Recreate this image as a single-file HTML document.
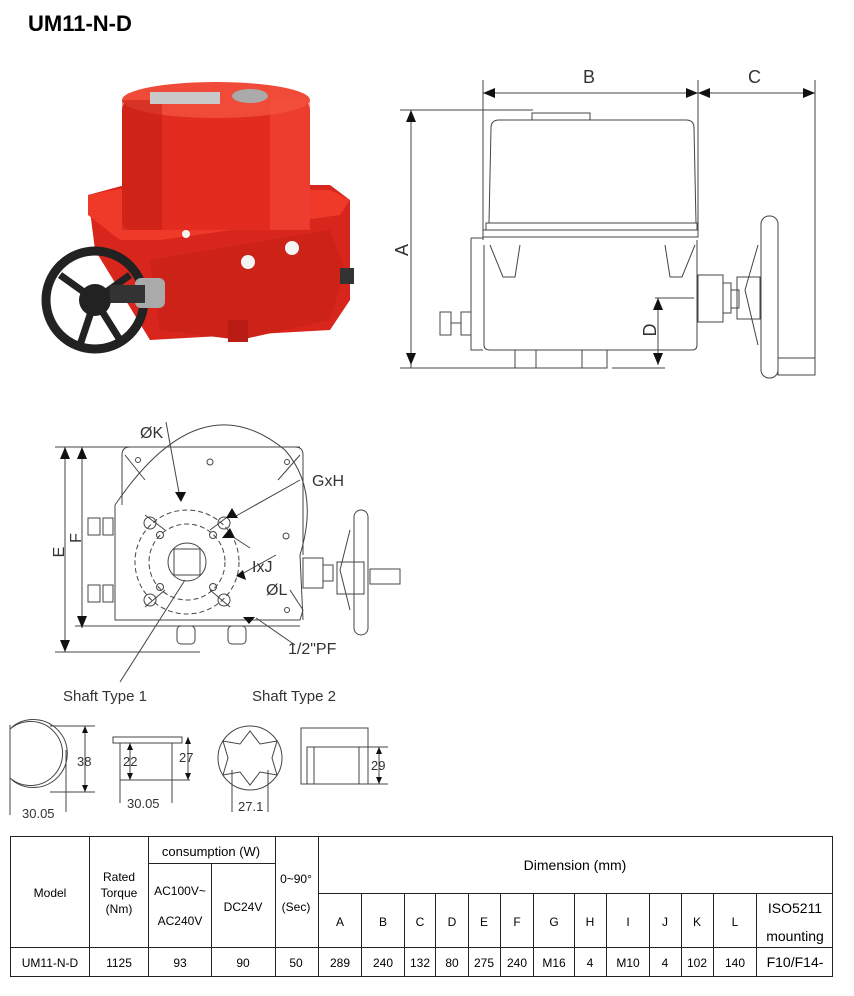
<!DOCTYPE html>
<html><head><meta charset="utf-8"><style>
body{margin:0;background:#fff;width:854px;height:996px;overflow:hidden;font-family:"Liberation Sans",sans-serif}
svg{position:absolute;left:0;top:0}
text{font-family:"Liberation Sans",sans-serif;fill:#333}
</style></head><body>
<svg width="854" height="996" viewBox="0 0 854 996">
<text x="28" y="31" font-size="22" font-weight="bold" fill="#000" style="fill:#000">UM11-N-D</text>

<!-- Photo -->
<g>
<path d="M88 195 L125 185 L330 185 L350 200 L350 300 L330 330 L150 340 L95 250 Z" fill="#d8261c"/>
<path d="M88 195 L88 215 L120 240 L160 240 L340 215 L350 200 L330 190 L125 188 Z" fill="#ef3a2a"/>
<rect x="122" y="100" width="188" height="130" rx="10" fill="#e32b1f"/>
<ellipse cx="216" cy="100" rx="94" ry="18" fill="#f04a38"/>
<rect x="122" y="100" width="40" height="130" fill="#c01d14" opacity="0.5"/>
<rect x="270" y="100" width="40" height="130" fill="#f55040" opacity="0.5"/>
<rect x="150" y="92" width="70" height="12" fill="#c9c9c9"/>
<ellipse cx="250" cy="96" rx="18" ry="7" fill="#aaa"/>
<path d="M150 260 L330 230 L345 270 L330 320 L240 340 L160 330 Z" fill="#cc2218"/>
<rect x="228" y="320" width="20" height="22" fill="#b81c14"/>
<circle cx="248" cy="262" r="7" fill="#f4f4f4"/>
<circle cx="292" cy="248" r="7" fill="#f4f4f4"/>
<circle cx="186" cy="234" r="4" fill="#f4f4f4"/>
<rect x="340" y="268" width="14" height="16" fill="#333"/>
<circle cx="95" cy="300" r="49" fill="none" stroke="#222" stroke-width="9"/>
<circle cx="95" cy="300" r="16" fill="#222"/>
<path d="M95 300 L60 275 M95 300 L130 275 M95 300 L80 345 M95 300 L120 340" stroke="#222" stroke-width="7"/>
<rect x="135" y="278" width="30" height="30" rx="6" fill="#aaa"/>
<rect x="110" y="285" width="35" height="18" fill="#333"/>
</g>

<!-- Side view -->
<g fill="none" stroke="#444" stroke-width="1">
<line x1="483" y1="80" x2="483" y2="240"/>
<line x1="698" y1="80" x2="698" y2="230"/>
<line x1="815" y1="80" x2="815" y2="375"/>
<line x1="483" y1="93" x2="815" y2="93"/>
<line x1="400" y1="110" x2="533" y2="110"/>
<line x1="411" y1="110" x2="411" y2="368"/>
<line x1="400" y1="368" x2="520" y2="368"/>
<path d="M532 120 L532 113 L590 113 L590 120"/>
<path d="M489 223 L491 128 Q491 120 499 120 L686 120 Q694 120 694 128 L696 223 Z"/>
<rect x="483" y="230" width="215" height="7"/>
<rect x="486" y="223" width="211" height="7"/>
<path d="M471 238 L483 238 M471 238 L471 350 L483 350"/>
<path d="M484 245 L484 345 Q484 350 490 350 L692 350 Q697 350 697 345 L697 240"/>
<path d="M490 245 L503 277 L515 277 L520 245 M665 245 L670 277 L682 277 L695 245"/>
<rect x="515" y="350" width="92" height="18"/>
<line x1="536" y1="350" x2="536" y2="368"/><line x1="582" y1="350" x2="582" y2="368"/>
<rect x="440" y="312" width="11" height="23"/><rect x="461" y="312" width="10" height="23"/>
<line x1="451" y1="323" x2="461" y2="323"/>
<rect x="698" y="275" width="25" height="47"/><rect x="723" y="283" width="8" height="30"/>
<rect x="731" y="290" width="8" height="18"/><rect x="737" y="277" width="23" height="42"/>
<rect x="761" y="216" width="17" height="162" rx="8"/>
<path d="M758 245 L745 290 L758 345"/>
<rect x="778" y="358" width="37" height="17"/>
<line x1="655" y1="298" x2="694" y2="298"/>
<line x1="658" y1="298" x2="658" y2="365"/>
<line x1="612" y1="368" x2="665" y2="368"/>
</g>
<g fill="#111">
<path d="M483 93 L495 88 L495 98Z M698 93 L686 88 L686 98Z M698 93 L710 88 L710 98Z M815 93 L803 88 L803 98Z"/>
<path d="M411 110 L406 122 L416 122Z M411 365 L406 353 L416 353Z"/>
<path d="M658 298 L653 310 L663 310Z M658 365 L653 353 L663 353Z"/>
</g>
<text x="583" y="83" font-size="18">B</text>
<text x="748" y="83" font-size="18">C</text>
<text x="408" y="250" font-size="18" transform="rotate(-90 408 250)" text-anchor="middle">A</text>
<text x="656" y="330" font-size="18" transform="rotate(-90 656 330)" text-anchor="middle">D</text>

<!-- Bottom view -->
<g fill="none" stroke="#444" stroke-width="1">
<line x1="55" y1="447" x2="300" y2="447"/>
<line x1="65" y1="447" x2="65" y2="652"/>
<line x1="82" y1="447" x2="82" y2="628"/>
<line x1="55" y1="652" x2="200" y2="652"/>
<line x1="75" y1="626" x2="300" y2="626"/>
<path d="M122 505 L122 455 Q122 447 130 447 L295 447 Q303 447 303 455 L303 555"/>
<path d="M115 505 L115 620 L300 620 L303 610"/>
<path d="M115 505 Q200 380 285 450 Q320 490 300 555"/>
<path d="M300 555 L303 620"/>
<path d="M125 455 L145 480 M300 455 L278 480 M290 590 L303 610"/>
<circle cx="138" cy="460" r="2.5"/><circle cx="210" cy="462" r="3"/><circle cx="287" cy="462" r="2.5"/><circle cx="286" cy="536" r="3"/><circle cx="287" cy="610" r="2.5"/>
<circle cx="187" cy="562" r="52" stroke-dasharray="5 3"/>
<circle cx="187" cy="562" r="38" stroke-dasharray="5 3"/>
<circle cx="187" cy="562" r="19"/>
<rect x="174" y="549" width="26" height="26"/>
<circle cx="150" cy="523" r="6"/><circle cx="224" cy="523" r="6"/><circle cx="150" cy="600" r="6"/><circle cx="224" cy="600" r="6"/>
<circle cx="160" cy="535" r="3.5"/><circle cx="213" cy="535" r="3.5"/><circle cx="160" cy="587" r="3.5"/><circle cx="213" cy="587" r="3.5"/>
<path d="M145 515 L165 530 M230 515 L210 530 M145 607 L165 590 M230 607 L210 590"/>
<rect x="88" y="518" width="12" height="17"/><rect x="103" y="518" width="10" height="17"/>
<rect x="88" y="585" width="12" height="17"/><rect x="103" y="585" width="10" height="17"/>
<rect x="177" y="626" width="18" height="18" rx="4"/><rect x="228" y="626" width="18" height="18" rx="4"/>
<rect x="303" y="558" width="20" height="30"/><rect x="323" y="565" width="10" height="16"/>
<rect x="337" y="562" width="27" height="32"/><rect x="370" y="569" width="30" height="15"/>
<rect x="354" y="510" width="14" height="125" rx="7"/>
<path d="M350 530 L340 570 L350 610"/>
<path d="M166 422 L180 498 M300 480 L236 516 M276 555 L240 575 M256 618 L295 645 M250 548 L227 533 M185 580 L120 682"/>
</g>
<g fill="#111">
<path d="M65 447 L60 459 L70 459Z M65 652 L60 640 L70 640Z M82 447 L77 459 L87 459Z M82 628 L77 616 L87 616Z"/>
<path d="M181 502 L175 492 L186 492Z M226 518 L232 508 L238 518Z M222 538 L230 528 L235 538Z M236 576 L243 570 L246 580Z M249 624 L243 617 L255 617Z"/>
</g>
<text x="140" y="438" font-size="16">ØK</text>
<text x="312" y="486" font-size="16">GxH</text>
<text x="252" y="572" font-size="16">IxJ</text>
<text x="266" y="595" font-size="16">ØL</text>
<text x="288" y="654" font-size="16">1/2"PF</text>
<text x="64" y="552" font-size="16" transform="rotate(-90 64 552)" text-anchor="middle">E</text>
<text x="81" y="538" font-size="16" transform="rotate(-90 81 538)" text-anchor="middle">F</text>
<text x="63" y="701" font-size="15">Shaft Type 1</text>
<text x="252" y="701" font-size="15">Shaft Type 2</text>

<!-- Shaft drawings -->
<g fill="none" stroke="#444" stroke-width="1">
<path d="M10 729 A32 32 0 1 1 10 778"/>
<path d="M12 727 A34 34 0 1 1 12 780"/>
<line x1="10" y1="725" x2="10" y2="815"/>
<line x1="66" y1="750" x2="66" y2="812"/>
<line x1="50" y1="726" x2="95" y2="726"/><line x1="50" y1="792" x2="95" y2="792"/>
<line x1="85" y1="726" x2="85" y2="792"/>
<path d="M113 743 L113 737 L182 737 L182 743 Z"/>
<line x1="120" y1="743" x2="120" y2="803"/><line x1="172" y1="743" x2="172" y2="803"/>
<line x1="120" y1="780" x2="190" y2="780"/>
<line x1="130" y1="743" x2="130" y2="780"/><line x1="188" y1="737" x2="188" y2="780"/>
<circle cx="250" cy="758" r="32"/>
<path d="M250 731 L260 744 L277 741 L272 758 L277 775 L260 772 L250 785 L240 772 L223 775 L228 758 L223 741 L240 744Z"/>
<line x1="232" y1="770" x2="232" y2="812"/><line x1="268" y1="770" x2="268" y2="812"/>
<rect x="301" y="728" width="67" height="56"/>
<rect x="307" y="747" width="61" height="37"/>
<line x1="314" y1="747" x2="314" y2="784"/><line x1="359" y1="747" x2="359" y2="784"/>
<line x1="368" y1="747" x2="388" y2="747"/><line x1="368" y1="784" x2="388" y2="784"/>
<line x1="379" y1="747" x2="379" y2="784"/>
</g>
<g fill="#111">
<path d="M85 726 L82 733 L88 733Z M85 792 L82 785 L88 785Z M130 743 L127 750 L133 750Z M130 780 L127 773 L133 773Z M188 737 L185 744 L191 744Z M188 780 L185 773 L191 773Z M379 747 L376 754 L382 754Z M379 784 L376 777 L382 777Z"/>
</g>
<text x="77" y="766" font-size="13">38</text>
<text x="123" y="766" font-size="13">22</text>
<text x="179" y="762" font-size="13">27</text>
<text x="371" y="770" font-size="13">29</text>
<text x="22" y="818" font-size="13">30.05</text>
<text x="127" y="808" font-size="13">30.05</text>
<text x="238" y="811" font-size="13">27.1</text>

<!-- Table -->
<g stroke="#222" stroke-width="1" fill="none">
<rect x="10.5" y="836.5" width="822" height="140"/>
<line x1="10" y1="947.5" x2="833" y2="947.5"/>
<line x1="148" y1="863.5" x2="275" y2="863.5"/>
<line x1="318" y1="893.5" x2="833" y2="893.5"/>
<line x1="89.5" y1="836" x2="89.5" y2="977"/>
<line x1="148.5" y1="836" x2="148.5" y2="977"/>
<line x1="211.5" y1="863" x2="211.5" y2="977"/>
<line x1="275.5" y1="836" x2="275.5" y2="977"/>
<line x1="318.5" y1="836" x2="318.5" y2="977"/>
<line x1="361.5" y1="893" x2="361.5" y2="977"/>
<line x1="404.5" y1="893" x2="404.5" y2="977"/>
<line x1="435.5" y1="893" x2="435.5" y2="977"/>
<line x1="468.5" y1="893" x2="468.5" y2="977"/>
<line x1="500.5" y1="893" x2="500.5" y2="977"/>
<line x1="533.5" y1="893" x2="533.5" y2="977"/>
<line x1="574.5" y1="893" x2="574.5" y2="977"/>
<line x1="606.5" y1="893" x2="606.5" y2="977"/>
<line x1="649.5" y1="893" x2="649.5" y2="977"/>
<line x1="681.5" y1="893" x2="681.5" y2="977"/>
<line x1="713.5" y1="893" x2="713.5" y2="977"/>
<line x1="756.5" y1="893" x2="756.5" y2="977"/>
</g>
<g font-size="12" text-anchor="middle" style="fill:#000">
<text x="50" y="897" style="fill:#000">Model</text>
<text x="119" y="881" style="fill:#000">Rated</text>
<text x="119" y="897" style="fill:#000">Torque</text>
<text x="119" y="913" style="fill:#000">(Nm)</text>
<text x="211" y="856" font-size="13" style="fill:#000">consumption (W)</text>
<text x="180" y="895" style="fill:#000">AC100V~</text>
<text x="180" y="925" style="fill:#000">AC240V</text>
<text x="243" y="911" style="fill:#000">DC24V</text>
<text x="296" y="883" style="fill:#000">0~90°</text>
<text x="296" y="911" style="fill:#000">(Sec)</text>
<text x="575" y="870" font-size="14" style="fill:#000">Dimension (mm)</text>
<text x="340" y="926" style="fill:#000">A</text><text x="383" y="926" style="fill:#000">B</text><text x="420" y="926" style="fill:#000">C</text><text x="452" y="926" style="fill:#000">D</text><text x="484" y="926" style="fill:#000">E</text><text x="517" y="926" style="fill:#000">F</text><text x="554" y="926" style="fill:#000">G</text><text x="590" y="926" style="fill:#000">H</text><text x="628" y="926" style="fill:#000">I</text><text x="665" y="926" style="fill:#000">J</text><text x="697" y="926" style="fill:#000">K</text><text x="735" y="926" style="fill:#000">L</text>
<text x="795" y="913" font-size="14" style="fill:#000">ISO5211</text>
<text x="795" y="941" font-size="14" style="fill:#000">mounting</text>
<text x="50" y="967" style="fill:#000">UM11-N-D</text><text x="119" y="967" style="fill:#000">1125</text><text x="180" y="967" style="fill:#000">93</text><text x="243" y="967" style="fill:#000">90</text><text x="296" y="967" style="fill:#000">50</text>
<text x="340" y="967" style="fill:#000">289</text><text x="383" y="967" style="fill:#000">240</text><text x="420" y="967" style="fill:#000">132</text><text x="452" y="967" style="fill:#000">80</text><text x="484" y="967" style="fill:#000">275</text><text x="517" y="967" style="fill:#000">240</text><text x="554" y="967" style="fill:#000">M16</text><text x="590" y="967" style="fill:#000">4</text><text x="628" y="967" style="fill:#000">M10</text><text x="665" y="967" style="fill:#000">4</text><text x="697" y="967" style="fill:#000">102</text><text x="735" y="967" style="fill:#000">140</text><text x="795" y="967" font-size="14" style="fill:#000">F10/F14-</text>
</g>
</svg>
</body></html>
